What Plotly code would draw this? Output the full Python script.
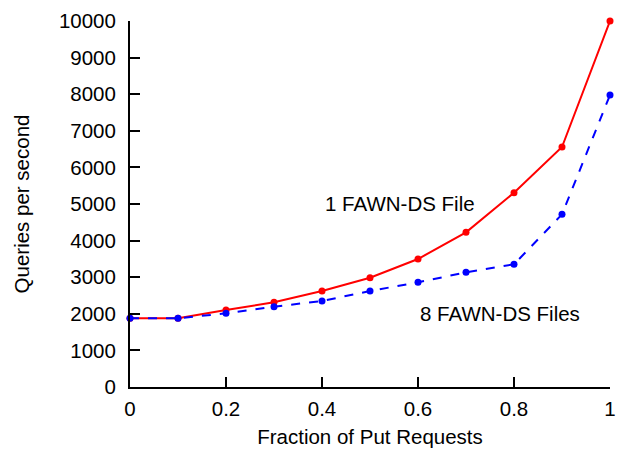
import plotly.graph_objects as go

x_vals = [0, 0.1, 0.2, 0.3, 0.4, 0.5, 0.6, 0.7, 0.8, 0.9, 1.0]
one_file = [1877, 1877, 2104, 2314, 2623, 2987, 3497, 4226, 5310, 6557, 10000]
eight_files = [1877, 1877, 2013, 2194, 2350, 2623, 2860, 3133, 3352, 4718, 7978]
x_ticks = [0, 0.2, 0.4, 0.6, 0.8, 1]
x_tick_labels = ["0", "0.2", "0.4", "0.6", "0.8", "1"]
y_ticks = [0, 1000, 2000, 3000, 4000, 5000, 6000, 7000, 8000, 9000, 10000]
y_tick_labels = ["0", "1000", "2000", "3000", "4000", "5000", "6000", "7000", "8000", "9000", "10000"]

font_family = "Liberation Sans, Arial, Helvetica, sans-serif"
fs = 20.5

fig = go.Figure()
fig.add_trace(go.Scatter(x=x_vals, y=one_file, mode="lines+markers",
                         line=dict(color="#ff0000", width=2),
                         marker=dict(color="#ff0000", size=7),
                         cliponaxis=False, name="1 FAWN-DS File"))
fig.add_trace(go.Scatter(x=x_vals, y=eight_files, mode="lines+markers",
                         line=dict(color="#0000ff", width=2, dash="dash"),
                         marker=dict(color="#0000ff", size=7),
                         cliponaxis=False, name="8 FAWN-DS Files"))

fig.add_annotation(x=0.5625, y=5020, text="1 FAWN-DS File", showarrow=False,
                   font=dict(size=fs, color="#000000", family=font_family))
fig.add_annotation(x=0.771, y=2000, text="8 FAWN-DS Files", showarrow=False,
                   font=dict(size=fs, color="#000000", family=font_family))

fig.update_layout(
    width=618, height=449,
    margin=dict(l=130, r=8, t=21, b=62, autoexpand=False),
    paper_bgcolor="white", plot_bgcolor="white",
    showlegend=False,
    font=dict(family=font_family, size=fs, color="#000000"),
    xaxis=dict(range=[0, 1], tickvals=x_ticks, ticktext=x_tick_labels,
               tickfont=dict(size=fs, family=font_family, color="#000000"),
               ticks="inside", ticklen=10, tickwidth=1.5, tickcolor="#000000",
               showline=True, linecolor="#000000", linewidth=2,
               showgrid=False, zeroline=False, ticklabelstandoff=2,
               automargin=False,
               title=dict(text="Fraction of Put Requests", standoff=11,
                          font=dict(size=fs, family=font_family))),
    yaxis=dict(range=[0, 10000], tickvals=y_ticks, ticktext=y_tick_labels,
               tickfont=dict(size=fs, family=font_family, color="#000000"),
               ticks="inside", ticklen=10, tickwidth=1.5, tickcolor="#000000",
               showline=True, linecolor="#000000", linewidth=2,
               showgrid=False, zeroline=False, ticklabelstandoff=8,
               automargin=False,
               title=dict(text="Queries per second", standoff=24,
                          font=dict(size=fs, family=font_family))),
)

fig.write_html("out.html", config={"displayModeBar": False},
               post_script="document.body.style.margin='0';")
